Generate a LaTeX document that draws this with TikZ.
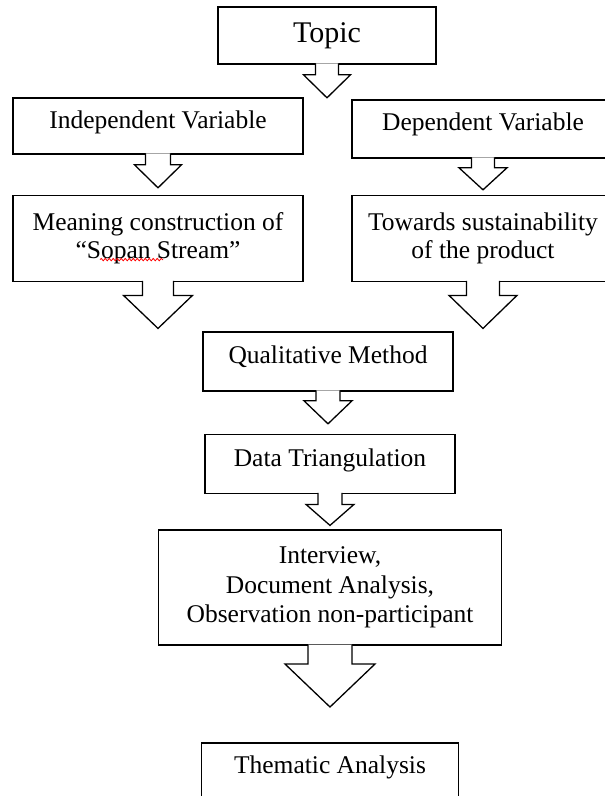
\documentclass[tikz,border=0pt]{standalone}
\usepackage{fontspec}
\setmainfont{Liberation Serif}
\usetikzlibrary{positioning,decorations.pathmorphing}

\newcommand{\blockdown}[5]{%
  \draw[hollow arrow] (#1.south) ++(-#2,-1.5) -- ++(0,#3+1.5) -- ++(-#4+#2,0)
    -- ++(#4,#5) -- ++(#4,-#5) -- ++(-#4+#2,0) -- ++(0,-#3-1.5);}

\begin{document}
\begin{tikzpicture}[x=1pt, y=-1pt,
  box/.style={draw, line width=1.6pt, fill=white, align=center, inner sep=2pt,
    font=\fontsize{25.5}{28}\selectfont},
  lifted/.style={text depth=13pt},
  hollow arrow/.style={line width=1.3pt, draw, fill=white, line join=miter},
  spell wave/.style={red, line width=0.8pt, decorate,
    decoration={snake, amplitude=1.2pt, segment length=4pt}}]
\useasboundingbox (0,0) rectangle (605,796);
\clip (0,0) rectangle (605,796);

\node[box, minimum width=218pt, minimum height=57pt, font=\fontsize{30}{34}\selectfont] (topic) at (327,35.5) {Topic};
\node[box, lifted, minimum width=290pt, minimum height=56pt] (indep) at (158,126) {Independent Variable};
\node[box, lifted, text depth=15pt, minimum width=262pt, minimum height=58pt] (dep) at (483,129) {Dependent Variable};
\node[box, minimum width=290pt, minimum height=86pt, below=40pt of indep] (meaning) {Meaning construction of\\``Sopan Stream''};
\node[box, minimum width=262pt, minimum height=86pt, below=36pt of dep] (towards) {Towards sustainability\\of the product};
\node[box, lifted, minimum width=250pt, minimum height=59pt] (qual) at (328,361.5) {Qualitative Method};
\node[box, lifted, minimum width=250pt, minimum height=59pt, below=42pt of qual, xshift=2pt] (data) {Data Triangulation};
\node[box, minimum width=343pt, minimum height=115pt, below=35pt of data, font=\fontsize{25.5}{29.5}\selectfont] (interview) {Interview,\\Document Analysis,\\Observation non-participant};
\node[box, lifted, minimum width=257pt, minimum height=56pt, below=96pt of interview] (thematic) {Thematic Analysis};

\draw[spell wave] ([xshift=-58pt,yshift=-21pt]meaning.center) -- ++(63,0);

\blockdown{topic}{11.5}{10}{23.5}{23}
\blockdown{indep}{12.5}{10}{23.5}{23}
\blockdown{dep}{11.5}{9}{24}{22}
\blockdown{meaning}{15.5}{13}{34.5}{33}
\blockdown{towards}{16.5}{13}{34}{33}
\blockdown{qual}{12}{9}{24}{23}
\blockdown{data}{12}{10}{24}{21}
\blockdown{interview}{22}{18}{45}{43}
\end{tikzpicture}
\end{document}
